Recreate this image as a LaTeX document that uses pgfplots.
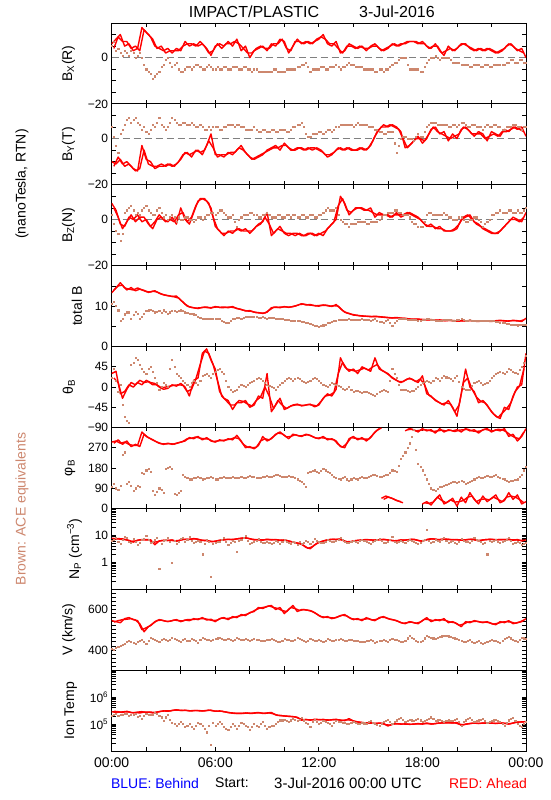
\documentclass[border=0pt]{standalone}
\usepackage{pgfplots}
\pgfplotsset{compat=1.18}
\usepackage{pgfplotstable}
\usepackage{fontspec}
\setmainfont{Liberation Sans}
\definecolor{brownc}{RGB}{205,135,110}
\pgfplotstableread{
t bxr bxb byr byb bzr bzb btr btb thr thb phr phl phb npr npb vr vb tr tb
0 6 5 -10 5 7 2 13.3 10.5 30 20 295 nan 95 7.8 6.5 545 405 2.9e5 2.0e5
0.25 8 3 -11 -3 4 -5 14.5 10 35 15 300 nan 90 7.5 8.5 540 410 2.7e5 2.4e5
0.5 10 2 -9 2 -2 -9 15.8 6.5 -15 5 290 nan 100 7.2 5.0 535 420 2.8e5 2.2e5
0.75 5 3 -12 6 -3 3 14.5 8 -10 -65 295 nan 250 7.0 9.0 555 430 2.9e5 2.5e5
1.0 6 1 -11 9 1 5 14.2 8.5 5 -80 285 nan 120 6.5 6.0 560 445 2.8e5 2.1e5
1.25 3 2 -13 8 0 4 14 7.8 0 55 280 nan 80 5.6 7.5 550 435 2.6e5 2.3e5
1.5 4 1 -14 7 2 3 14.5 8.2 10 60 280 nan 100 6.6 4.5 545 440 2.8e5 1.9e5
1.75 13 0 -3 4 -1 4 14 7.5 5 40 340 nan 160 7.0 6.8 500 450 2.9e5 1.6e5
2.0 11 -5 -9 3 0 6 13.6 8.8 15 30 320 nan 170 6.8 9.5 510 430 2.7e5 2.4e5
2.25 9 -7 -10 4 -3 3 13.5 9.2 10 45 310 nan 165 6.9 5.5 520 460 2.8e5 2.2e5
2.5 5 -8 -13 5 -1 2 13.8 8.5 8 20 300 nan 60 4.5 7.0 540 450 2.7e5 2.6e5
2.75 4 -6 -12 9 2 5 13.2 8.8 0 -5 290 nan 90 6.2 0.6 550 440 2.9e5 2.0e5
3.0 3 -3 -12 5 0 1 12.8 9.0 -5 10 285 nan 70 6.5 6.2 545 455 3.1e5 1.3e5
3.25 4 0 -11 5 -1 0 12.6 8.2 -3 0 290 nan 180 6.4 8.0 540 445 3.0e5 2.2e5
3.5 2 -4 -12 9 1 2 12.4 8.8 5 60 285 nan 175 6.8 1.0 545 460 3.2e5 1.1e5
3.75 4 -2 -11 7 -2 -1 12.5 8.6 2 30 290 nan 60 6.0 5.0 550 450 3.4e5 0.9e5
4.0 3 -6 -9 6 5 0 11.5 9.0 8 20 295 nan 80 6.8 7.5 540 440 3.2e5 1.2e5
4.25 7 -5 -6 7 0 1 10.5 8.5 0 10 300 nan 140 7.2 6.0 548 455 3.3e5 0.8e5
4.5 5 -4 -7 6 -2 0 9.8 8.2 -20 0 315 nan 130 7.0 9.0 545 445 3.1e5 1.0e5
4.75 6 -4 -6 6 3 -1 9.6 8.0 15 15 310 nan 135 7.6 5.5 555 450 3.2e5 0.7e5
5.0 5 -3 -5 5 8 1 9.4 7.5 20 5 320 nan 140 7.2 6.5 550 435 3.2e5 1.1e5
5.25 6 -5 -7 5 9 0 9.7 7.0 75 25 305 nan 130 6.5 2.0 560 460 3.1e5 0.9e5
5.5 4 -4 -3 4 8 2 9.8 6.8 85 30 315 nan 135 6.6 7.0 548 450 3.2e5 0.5e5
5.75 1 -4 2 4 5 3 9.5 6.9 60 20 300 nan 140 5.8 0.3 552 445 3.3e5 0.17e5
6.0 5 -5 -7 5 -3 2 9.9 7.0 40 35 295 nan 130 6.0 5.5 540 455 3.0e5 0.9e5
6.25 6 -5 -7 4 -5 4 9.7 6.8 -10 40 305 nan 135 6.6 6.0 555 460 3.1e5 1.2e5
6.5 5 -4 -8 5 -7 3 9.8 6.2 -25 30 300 nan 140 6.8 8.0 560 450 2.9e5 0.8e5
6.75 7 -5 -6 6 -5 1 9.6 5.8 -30 0 310 nan 135 7.2 4.5 550 455 2.7e5 0.6e5
7.0 5 -4 -7 6 -6 2 9.9 6.8 -50 -10 305 nan 140 6.9 6.5 565 445 2.6e5 1.0e5
7.25 8 -4 -5 6 -4 -3 9.4 7.2 -35 -5 325 nan 135 7.4 2.5 560 460 2.5e5 0.7e5
7.5 3 -5 -3 5 -5 1 9.2 7.0 -35 5 300 nan 140 7.8 7.0 575 450 2.5e5 1.1e5
7.75 5 -4 -6 4 -4 2 8.8 7.3 -30 0 270 nan 135 8.2 9.5 570 455 2.6e5 0.9e5
8.0 0 -5 -8 4 -6 3 8.9 7.5 -45 10 275 nan 145 7.5 5.0 585 445 2.5e5 0.6e5
8.25 3 -5 -9 5 -4 2 8.5 7.4 -40 15 265 nan 140 6.8 6.0 590 455 2.6e5 1.0e5
8.5 4 -6 -8 3 -2 1 8.4 7.2 -20 20 280 nan 135 7.0 7.5 610 450 2.7e5 0.8e5
8.75 5 -6 -7 4 -1 2 8.2 7.3 -25 15 320 nan 140 6.6 5.5 605 445 2.5e5 1.2e5
9.0 3 -6 -5 3 3 3 8.5 7.0 30 5 300 nan 145 7.2 6.0 615 450 2.6e5 0.7e5
9.25 6 -6 -4 4 -7 1 9.6 7.2 -55 0 310 nan 140 6.8 4.8 620 455 2.7e5 0.9e5
9.5 5 -5 -3 3 -5 1 9.8 7.0 -40 -5 330 nan 150 7.0 6.5 600 445 2.2e5 1.0e5
9.75 8 -6 -5 4 -3 2 9.6 6.8 -25 5 340 nan 145 6.5 5.0 610 440 2.1e5 1.4e5
10.0 7 -6 -2 4 -6 1 9.9 6.7 -50 15 325 nan 140 6.8 7.0 580 455 2.0e5 1.5e5
10.25 2 -5 -4 3 -7 2 9.7 6.6 -45 20 310 nan 145 6.2 5.5 600 450 1.95e5 1.2e5
10.5 5 -5 -5 5 -6 2 9.9 6.5 -40 15 330 nan 140 5.6 6.0 620 445 1.9e5 1.6e5
10.75 8 -4 -4 6 -6 1 10.2 6.4 -38 20 325 nan 130 5.2 4.5 590 460 1.8e5 1.3e5
11.0 6 -3 -4 7 -7 2 10.6 6.2 -42 15 320 nan 120 4.8 5.0 600 450 1.4e5 1.7e5
11.25 7 -2 -5 2 -7 1 10.3 6.0 -40 10 330 nan 95 3.6 6.5 598 440 1.5e5 1.1e5
11.5 6 -6 -4 1 -6 2 10.4 5.6 -38 15 325 nan 165 3.2 5.0 595 455 1.4e5 0.8e5
11.75 7 -5 -4 2 -7 1 10.1 5.2 -44 20 315 nan 170 4.4 7.5 585 445 1.5e5 1.5e5
12.0 8 -5 -5 3 -6 2 10.0 5.0 -40 15 310 nan 160 5.5 6.0 570 450 1.45e5 1.0e5
12.25 10 -4 -6 2 -7 3 10.3 5.3 -25 5 320 nan 175 6.2 5.2 560 440 1.5e5 1.3e5
12.5 6 -5 -8 4 -4 5 10.2 5.8 -15 0 305 nan 165 6.8 7.0 565 455 1.4e5 1.1e5
12.75 5 -4 -7 3 -2 4 9.9 6.2 -20 10 310 nan 150 7.2 5.8 555 445 1.45e5 0.9e5
13.0 7 -3 -5 5 0 5 10.4 6.5 -5 5 300 nan 135 7.0 6.5 560 450 1.5e5 1.3e5
13.25 2 -5 -4 6 10 0 9.4 6.7 65 0 275 nan 130 7.4 8.5 570 455 1.4e5 1.2e5
13.5 3 -4 -5 6 7 -2 8.5 6.6 45 -5 270 nan 140 6.0 6.0 575 445 1.35e5 1.1e5
13.75 6 -2 -4 6 2 -3 8.2 6.8 35 0 310 nan 125 5.6 5.2 560 450 1.6e5 1.0e5
14.0 5 -3 -5 5 4 -2 7.8 6.7 40 -10 320 nan 135 6.2 6.5 550 448 1.3e5 1.2e5
14.25 4 -4 -5 7 5 -1 7.7 6.6 30 -8 305 nan 130 6.5 5.5 555 445 1.2e5 1.0e5
14.5 5 -4 -4 6 5 -1 7.6 6.8 45 -12 315 nan 140 6.8 7.0 545 440 1.15e5 1.1e5
14.75 3 -5 -5 6 4 -2 7.5 6.7 40 -10 300 nan 135 7.0 6.0 560 445 1.1e5 1.05e5
15.0 5 -5 -3 5 5 -1 7.4 6.5 35 -15 315 nan 145 6.8 5.0 550 450 1.12e5 1.3e5
15.25 6 -6 1 4 1 -1 7.5 6.8 65 -20 340 nan 150 6.6 6.5 545 438 1.05e5 1.0e5
15.5 4 -5 4 3 3 0 7.4 6.2 40 -10 355 nan 140 6.9 7.5 560 445 1.1e5 0.9e5
15.75 3 -6 6 2 2 2 7.3 6.0 35 -5 nan 40 145 7.1 5.5 565 450 1.05e5 1.2e5
16.0 4 -5 5 3 2 3 7.2 6.6 30 -10 nan 50 150 6.8 6.0 555 442 0.85e5 1.5e5
16.25 6 -3 6 3 1 3 7.1 5.2 20 40 nan 45 170 6.4 9.0 550 455 1.0e5 1.0e5
16.5 5 -2 5 -6 3 4 7.2 6.5 15 20 nan 35 165 6.2 5.2 545 450 1.05e5 1.4e5
16.75 6 0 3 0 1 3 7.0 7.0 10 -5 nan 30 220 6.8 6.5 535 440 1.0e5 1.7e5
17.0 6 0 -4 1 2 2 7.0 6.8 15 -5 345 nan 250 6.6 5.5 530 445 1.02e5 1.2e5
17.25 7 -5 -3 0 3 1 6.8 6.6 20 -10 355 nan 290 7.0 7.0 540 470 0.98e5 1.5e5
17.5 7 -5 -1 -1 2 -2 6.7 6.7 15 -8 350 nan 350 7.2 6.0 535 455 1.0e5 1.3e5
17.75 6 -5 1 2 1 -3 6.8 6.5 10 0 340 nan 200 6.5 5.0 530 440 1.05e5 1.6e5
18.0 7 -6 -2 1 -1 -3 6.7 6.6 25 10 355 20 170 6.0 6.5 545 445 1.0e5 1.2e5
18.25 5 -2 0 5 -3 2 6.6 6.8 -15 15 345 30 130 7.0 16 560 470 1.1e5 1.5e5
18.5 4 0 4 7 -2 3 6.7 6.7 -20 10 350 15 90 7.5 5.5 540 460 1.0e5 1.8e5
18.75 6 1 5 7 -4 2 6.5 6.5 -30 20 335 40 80 7.2 7.0 550 455 1.05e5 1.3e5
19.0 3 -1 2 6 -3 2 6.6 6.4 -35 15 355 60 95 6.8 6.0 545 465 1.1e5 1.5e5
19.25 1 0 3 6 -5 3 6.4 6.6 -40 25 340 20 100 7.4 8.0 555 470 1.12e5 1.2e5
19.5 5 0 -1 5 -5 1 6.5 6.7 -30 20 350 30 110 7.1 5.5 535 468 1.15e5 1.4e5
19.75 3 -2 2 6 -5 0 6.4 6.5 -45 15 345 45 120 6.8 6.2 540 460 1.1e5 1.3e5
20.0 4 -2 0 5 -4 0 6.3 6.6 -65 25 350 10 115 7.0 5.0 530 455 1.15e5 1.6e5
20.25 6 -3 4 7 0 1 6.4 6.8 -15 0 340 50 125 6.6 7.5 515 445 0.9e5 0.9e5
20.5 6 -3 5 6 1 -1 6.3 6.5 40 -5 355 25 110 6.8 6.0 540 440 1.0e5 1.4e5
20.75 4 -4 3 5 2 0 6.5 6.6 0 -5 345 70 120 7.2 5.5 535 450 1.05e5 1.7e5
21.0 3 -3 1 6 -1 1 6.3 6.4 -10 10 350 40 130 7.0 8.0 545 435 1.1e5 1.2e5
21.25 4 -3 3 5 -2 0 6.2 6.5 -35 15 335 20 140 6.2 6.5 540 445 1.05e5 1.4e5
21.5 3 -4 2 4 -4 -3 6.4 6.3 -30 5 350 55 135 6.8 5.0 535 430 1.1e5 1.6e5
21.75 4 -3 -1 6 -5 -1 6.3 6.5 -40 10 355 30 145 7.0 2.0 540 440 1.08e5 1.1e5
22.0 3 -4 3 5 -6 2 6.2 6.4 -55 20 340 45 140 7.2 6.0 530 450 1.1e5 1.3e5
22.25 2 -3 2 6 -6 3 6.4 6.2 -65 30 350 60 150 6.8 7.0 525 445 1.05e5 1.5e5
22.5 3 -3 1 5 -5 4 6.5 6.0 -70 35 345 25 135 7.0 5.5 540 435 1.1e5 1.2e5
22.75 4 -3 4 4 -3 3 6.4 5.8 -45 30 355 35 130 6.9 6.5 535 455 1.08e5 0.9e5
23.0 6 -2 3 5 -1 4 6.3 5.6 -50 40 320 70 120 7.2 8.0 545 465 1.0e5 1.4e5
23.25 5 -1 5 6 1 3 6.5 5.4 -20 35 330 40 125 6.6 5.0 530 450 1.1e5 1.7e5
23.5 3 -2 4 5 0 4 6.4 5.3 0 30 300 60 130 7.0 6.0 535 440 1.2e5 1.0e5
23.75 4 -1 5 4 -1 3 6.2 5.5 5 45 320 20 150 6.2 4.5 540 460 1.2e5 0.8e5
24.0 0 -2 1 5 3 5 7.0 5.4 75 70 355 30 185 6.8 5.5 555 455 1.25e5 1.2e5
}\data
\pgfplotstableread{
t bxr bxb byr byb bzr bzb btr btb thr thb phr phl phb npr npb vr vb tr tb
0.125 4 7 -12 1 5 -2 14.0 11 20 40 290 nan 110 7.2 7.0 538 400 3.0e5 2.2e5
0.375 9 4 -8 -6 1 -6 15.0 9 10 -10 305 nan 85 7.6 6.0 545 415 2.9e5 2.0e5
0.625 7 1 -11 4 -4 -6 15.2 7 -25 -40 285 nan 240 7.4 7.0 550 425 2.7e5 2.3e5
0.875 7 2 -10 8 -1 4 14.0 8.5 -5 -75 300 nan 110 6.8 8.0 552 440 3.0e5 2.4e5
1.125 4 3 -12 7 2 6 14.6 7.0 10 50 275 nan 100 6.0 5.5 555 440 2.7e5 2.2e5
1.375 5 0 -14 9 -1 2 13.8 8.6 5 65 285 nan 90 6.2 6.0 548 430 2.7e5 2.4e5
1.625 3 2 -13 6 1 2 14.2 7.0 15 50 275 nan 95 6.8 5.5 530 445 2.6e5 2.0e5
1.875 12 -3 -5 5 1 5 13.9 8.2 10 35 330 nan 155 6.9 7.5 490 440 2.8e5 2.1e5
2.125 10 -6 -11 2 -2 4 13.4 9.0 12 40 315 nan 175 7.0 7.0 515 445 2.8e5 2.3e5
2.375 8 -9 -12 6 -4 2 13.7 8.8 5 35 305 nan 80 5.5 6.0 530 455 2.6e5 2.3e5
2.625 4 -7 -12 7 0 4 13.5 8.7 5 10 295 nan 75 5.8 8.0 545 445 2.8e5 2.4e5
2.875 5 -4 -11 6 1 3 13.0 8.4 -2 0 288 nan 85 6.4 5.0 548 450 3.0e5 1.8e5
3.125 2 -1 -12 4 -1 2 12.7 8.6 0 5 287 nan 175 6.6 7.0 542 450 3.1e5 1.8e5
3.375 3 -2 -11 7 0 1 12.5 8.5 2 40 288 nan 185 6.6 6.0 542 452 3.1e5 1.5e5
3.625 3 -3 -12 8 -1 1 12.3 8.9 4 45 286 nan 65 6.3 6.5 548 455 3.3e5 1.0e5
3.875 3 -5 -10 6 2 1 12.0 8.8 5 25 292 nan 70 6.4 6.0 545 445 3.3e5 1.0e5
4.125 5 -6 -7 7 3 0 11.0 8.8 4 15 298 nan 150 7.0 8.0 544 450 3.2e5 1.0e5
4.375 6 -4 -6 6 -1 1 10.0 8.4 -10 5 310 nan 135 7.1 7.0 550 448 3.2e5 0.9e5
4.625 6 -5 -8 7 1 0 9.7 8.1 -5 10 312 nan 130 7.3 6.5 550 455 3.1e5 0.8e5
4.875 5 -3 -5 5 6 0 9.5 7.8 18 10 318 nan 138 7.4 6.0 552 445 3.2e5 0.9e5
5.125 7 -4 -6 6 9 1 9.6 7.2 50 15 312 nan 135 6.8 6.0 555 450 3.1e5 1.0e5
5.375 5 -5 -5 4 9 1 9.7 6.9 80 28 310 nan 132 6.4 5.0 555 455 3.1e5 0.7e5
5.625 2 -3 -1 5 7 2 9.6 7.0 75 25 308 nan 138 6.2 6.0 550 450 3.3e5 0.9e5
5.875 3 -5 -4 5 1 3 9.7 6.8 50 30 298 nan 135 5.9 5.0 545 450 3.1e5 1.1e5
6.125 6 -4 -8 5 -4 3 9.8 6.9 15 38 300 nan 130 6.3 5.8 548 458 3.0e5 1.0e5
6.375 4 -5 -7 4 -6 4 9.6 6.5 -20 35 302 nan 138 6.7 7.0 558 455 3.0e5 1.0e5
6.625 6 -4 -7 5 -6 2 9.7 6.0 -30 15 305 nan 138 7.0 6.0 555 452 2.8e5 0.7e5
6.875 6 -5 -6 6 -5 1 9.8 6.3 -40 -5 308 nan 137 7.0 5.5 558 450 2.6e5 0.8e5
7.125 7 -4 -6 5 -5 -1 9.6 7.0 -40 -8 315 nan 138 7.2 6.0 562 452 2.5e5 0.9e5
7.375 6 -5 -4 6 -4 0 9.3 7.1 -30 0 310 nan 137 7.6 6.5 568 455 2.5e5 0.9e5
7.625 4 -4 -5 5 -5 2 9.0 7.2 -32 3 285 nan 138 8.0 8.0 572 450 2.5e5 1.0e5
7.875 2 -5 -7 4 -5 2 8.8 7.4 -38 5 272 nan 140 7.8 6.5 578 450 2.6e5 0.8e5
8.125 2 -6 -9 4 -5 3 8.7 7.5 -42 12 270 nan 142 7.2 5.5 588 450 2.5e5 0.8e5
8.375 4 -5 -8 4 -3 2 8.4 7.3 -30 18 272 nan 138 6.9 6.5 600 452 2.6e5 0.9e5
8.625 5 -6 -7 3 -2 1 8.3 7.2 -22 18 300 nan 138 6.8 6.0 608 448 2.6e5 1.0e5
8.875 4 -6 -6 4 1 2 8.3 7.2 0 10 310 nan 142 6.9 5.5 612 448 2.5e5 0.9e5
9.125 4 -6 -5 3 -2 2 9.0 7.1 -20 3 305 nan 142 7.0 5.5 618 452 2.6e5 0.8e5
9.375 6 -5 -4 4 -6 1 9.7 7.1 -48 -2 320 nan 145 6.9 5.5 610 450 2.4e5 0.9e5
9.625 6 -6 -4 3 -4 2 9.7 6.9 -30 0 335 nan 148 6.8 5.8 605 442 2.1e5 1.2e5
9.875 8 -6 -3 4 -5 1 9.8 6.8 -40 10 332 nan 142 6.6 6.0 595 448 2.05e5 1.4e5
10.125 4 -5 -3 3 -6 2 9.8 6.6 -48 18 318 nan 142 6.5 6.0 590 452 1.98e5 1.3e5
10.375 3 -5 -5 4 -6 1 9.8 6.5 -42 18 320 nan 143 5.9 5.0 610 448 1.92e5 1.4e5
10.625 7 -5 -5 5 -7 2 10.0 6.5 -40 18 328 nan 135 5.4 5.5 605 452 1.85e5 1.5e5
10.875 7 -4 -4 6 -6 1 10.4 6.3 -40 18 322 nan 125 5.0 6.0 595 455 1.6e5 1.5e5
11.125 6 -3 -5 5 -7 2 10.5 6.1 -41 12 325 nan 110 4.2 5.5 600 445 1.45e5 1.4e5
11.375 7 -4 -4 1 -6 1 10.3 5.8 -39 12 328 nan 160 3.3 6.0 596 448 1.45e5 1.0e5
11.625 6 -5 -5 2 -6 2 10.2 5.4 -40 18 320 nan 168 3.8 6.0 590 450 1.45e5 1.2e5
11.875 8 -5 -4 2 -7 1 10.1 5.1 -42 18 312 nan 165 5.0 6.5 578 447 1.5e5 1.2e5
12.125 9 -4 -5 3 -6 2 10.2 5.1 -32 10 315 nan 168 5.8 5.5 565 445 1.45e5 1.1e5
12.375 8 -5 -7 3 -5 4 10.2 5.5 -20 3 312 nan 170 6.5 6.0 562 448 1.45e5 1.2e5
12.625 6 -4 -7 4 -3 4 10.0 6.0 -18 5 308 nan 158 7.0 6.5 560 450 1.42e5 1.0e5
12.875 6 -4 -6 4 -1 4 10.1 6.3 -12 8 305 nan 140 7.1 6.0 558 448 1.48e5 1.1e5
13.125 4 -4 -4 5 6 2 10.0 6.6 30 3 285 nan 132 7.2 7.0 565 452 1.45e5 1.25e5
13.375 2 -4 -5 6 9 -1 8.9 6.6 55 -3 272 nan 135 6.6 7.0 572 450 1.38e5 1.15e5
13.625 5 -3 -4 6 4 -2 8.3 6.7 40 -3 290 nan 130 5.8 5.5 568 448 1.45e5 1.05e5
13.875 5 -3 -5 6 3 -2 8.0 6.7 38 -5 315 nan 130 5.9 6.0 555 450 1.4e5 1.1e5
14.125 4 -4 -5 6 5 -2 7.8 6.6 35 -9 312 nan 132 6.4 6.0 552 446 1.25e5 1.1e5
14.375 5 -4 -4 6 5 -1 7.6 6.7 38 -10 310 nan 135 6.6 6.5 550 442 1.18e5 1.05e5
14.625 4 -5 -5 6 4 -1 7.5 6.7 42 -11 308 nan 138 6.9 6.5 552 443 1.12e5 1.08e5
14.875 4 -5 -4 5 4 -2 7.5 6.6 38 -12 308 nan 140 6.9 5.5 555 448 1.1e5 1.2e5
15.125 5 -5 -1 5 3 -1 7.4 6.6 45 -18 328 nan 148 6.7 6.0 548 444 1.08e5 1.1e5
15.375 5 -6 3 4 2 -1 7.4 6.5 50 -15 348 nan 145 6.8 7.0 552 442 1.08e5 0.95e5
15.625 3 -5 5 3 2 1 7.3 6.1 38 -8 358 45 142 7.0 6.5 562 448 1.08e5 1.05e5
15.875 4 -5 5 2 2 2 7.2 6.3 32 -8 nan 55 148 6.9 5.5 560 446 0.95e5 1.35e5
16.125 5 -4 6 3 1 3 7.1 6.0 25 15 nan 48 160 6.6 7.0 552 450 0.92e5 1.2e5
16.375 6 -2 5 -2 2 4 7.1 5.8 18 30 nan 40 168 6.3 6.0 548 452 1.02e5 1.2e5
16.625 5 -1 4 -3 2 3 7.1 6.8 12 5 nan 32 190 6.5 6.0 540 445 1.02e5 1.55e5
16.875 6 0 0 1 2 2 7.0 6.9 12 -5 nan 25 235 6.7 6.0 532 442 1.01e5 1.45e5
17.125 7 -3 -4 0 3 2 6.9 6.7 18 -8 350 nan 270 6.8 6.2 535 458 1.0e5 1.35e5
17.375 7 -5 -2 0 2 -1 6.8 6.6 18 -9 352 nan 320 7.1 6.5 538 462 0.99e5 1.4e5
17.625 7 -5 0 1 1 -2 6.8 6.6 12 -4 345 nan 260 6.8 5.5 532 448 1.02e5 1.45e5
17.875 6 -6 0 1 0 -3 6.7 6.5 18 5 348 nan 185 6.2 5.5 538 442 1.02e5 1.4e5
18.125 6 -4 -1 3 -2 -1 6.7 6.7 5 12 350 25 150 6.5 7.0 552 458 1.05e5 1.35e5
18.375 4 -1 2 6 -3 3 6.6 6.8 -18 12 348 22 110 7.2 6.5 550 465 1.05e5 1.6e5
18.625 5 0 5 7 -3 2 6.6 6.6 -25 15 342 28 85 7.4 6.0 545 458 1.02e5 1.55e5
18.875 5 0 3 6 -4 2 6.5 6.5 -32 18 345 50 88 7.0 6.5 548 460 1.08e5 1.4e5
19.125 2 0 2 6 -4 2 6.5 6.5 -38 20 348 35 98 7.1 7.0 550 468 1.1e5 1.35e5
19.375 3 0 1 6 -5 2 6.4 6.6 -35 22 345 25 105 7.2 6.5 545 470 1.12e5 1.3e5
19.625 4 -1 0 5 -5 1 6.5 6.6 -38 18 348 38 115 7.0 6.0 538 464 1.12e5 1.35e5
19.875 3 -2 1 6 -4 0 6.4 6.5 -55 20 342 28 118 6.9 5.5 535 458 1.12e5 1.45e5
20.125 5 -2 2 6 -2 1 6.3 6.7 -40 12 348 30 120 6.8 6.0 522 450 1.0e5 1.2e5
20.375 6 -3 5 7 1 0 6.4 6.6 10 -3 350 35 118 6.7 6.5 528 442 0.95e5 1.2e5
20.625 5 -3 4 5 2 -1 6.4 6.5 20 -5 352 50 115 7.0 6.0 538 445 1.02e5 1.55e5
20.875 4 -4 2 6 0 0 6.4 6.5 -5 3 345 55 125 7.1 6.5 540 442 1.08e5 1.45e5
21.125 3 -3 2 5 -2 1 6.3 6.4 -22 12 342 30 135 6.6 7.0 542 440 1.08e5 1.3e5
21.375 4 -4 2 5 -3 -1 6.3 6.4 -32 10 345 40 138 6.5 6.0 538 438 1.08e5 1.5e5
21.625 3 -3 0 5 -4 -2 6.3 6.4 -35 8 352 42 140 6.9 5.5 538 435 1.09e5 1.35e5
21.875 4 -4 1 5 -5 0 6.3 6.4 -48 15 348 38 142 7.1 6.5 535 445 1.09e5 1.2e5
22.125 3 -3 2 6 -6 2 6.3 6.3 -60 25 345 50 145 7.0 6.5 528 448 1.08e5 1.4e5
22.375 2 -3 1 5 -6 3 6.4 6.1 -68 32 352 40 142 6.9 6.0 532 440 1.08e5 1.35e5
22.625 3 -3 3 4 -4 3 6.4 5.9 -58 32 350 30 132 7.0 6.0 538 445 1.09e5 1.05e5
22.875 5 -2 3 5 -2 3 6.3 5.7 -48 35 340 50 125 7.0 7.0 540 460 1.05e5 1.15e5
23.125 6 -1 4 5 0 4 6.4 5.5 -35 38 325 55 122 6.9 6.5 538 458 1.05e5 1.55e5
23.375 4 -2 5 6 0 3 6.4 5.4 -10 32 315 50 128 6.8 5.5 532 445 1.15e5 1.3e5
23.625 3 -1 4 5 -1 3 6.3 5.4 2 38 310 40 140 6.6 5.5 538 452 1.2e5 0.9e5
23.875 2 -2 3 5 1 4 6.6 5.5 40 55 340 25 170 6.5 5.0 548 458 1.22e5 1.0e5
}\datb
\pgfplotsset{
  panel/.style={
    width=414.3pt, height=80.9pt, scale only axis,
    xmin=0, xmax=24,
    xtick={0,6,12,18,24}, minor xtick={2,4,8,10,14,16,20,22},
    xticklabels={},
    tick align=inside, major tick length=4pt, minor tick length=4pt,
    axis line style={line width=0.9pt},
    every tick/.style={line width=0.8pt, black},
    tick label style={font=\fontsize{12}{12}\selectfont},
    ylabel style={font=\fontsize{14}{14}\selectfont},
    ylabel shift=6pt,
    unbounded coords=jump,
  },
  redl/.style={red, line width=1.4pt, line join=round},
  brownm/.style={only marks, mark=square*, mark size=0.55pt, brownc},
  zerol/.style={gray, line width=0.8pt, dash pattern=on 7pt off 4pt},
}
\begin{document}
\begin{tikzpicture}[x=1pt,y=1pt]
\path[use as bounding box] (0,0) rectangle (550,800);
% 1 Bx
\begin{axis}[panel, at={(111.7pt,777pt)}, anchor=north west,
  ymin=-20, ymax=15, ytick={-20,0}, yticklabels={−20,0}, minor ytick={-15,-10,-5,5,10},
  ylabel={B\textsubscript{X}(R)}]
\addplot[zerol] coordinates {(0,0) (24,0)};
\addplot[brownm] table[x=t,y=bxb]{\data};
\addplot[brownm] table[x=t,y=bxb]{\datb};
\addplot[redl] table[x=t,y=bxr]{\data};
\addplot[redl] table[x=t,y=bxr]{\datb};
\end{axis}
% 2 By
\begin{axis}[panel, at={(111.7pt,696.1pt)}, anchor=north west,
  ymin=-20, ymax=15, ytick={-20,0}, yticklabels={−20,0}, minor ytick={-15,-10,-5,5,10},
  ylabel={B\textsubscript{Y}(T)}]
\addplot[zerol] coordinates {(0,0) (24,0)};
\addplot[brownm] table[x=t,y=byb]{\data};
\addplot[brownm] table[x=t,y=byb]{\datb};
\addplot[redl] table[x=t,y=byr]{\data};
\addplot[redl] table[x=t,y=byr]{\datb};
\end{axis}
% 3 Bz
\begin{axis}[panel, at={(111.7pt,615.2pt)}, anchor=north west,
  ymin=-20, ymax=15, ytick={-20,0}, yticklabels={−20,0}, minor ytick={-15,-10,-5,5,10},
  ylabel={B\textsubscript{Z}(N)}]
\addplot[zerol] coordinates {(0,0) (24,0)};
\addplot[brownm] table[x=t,y=bzb]{\data};
\addplot[brownm] table[x=t,y=bzb]{\datb};
\addplot[redl] table[x=t,y=bzr]{\data};
\addplot[redl] table[x=t,y=bzr]{\datb};
\end{axis}
% 4 total B
\begin{axis}[panel, at={(111.7pt,534.3pt)}, anchor=north west,
  ymin=0, ymax=20, ytick={0,10}, yticklabels={0,10}, minor ytick={5,15},
  ylabel={total B}]
\addplot[brownm] table[x=t,y=btb]{\data};
\addplot[brownm] table[x=t,y=btb]{\datb};
\addplot[redl] table[x=t,y=btr]{\data};
\addplot[redl] table[x=t,y=btr]{\datb};
\end{axis}
% 5 theta
\begin{axis}[panel, at={(111.7pt,453.4pt)}, anchor=north west,
  ymin=-90, ymax=90, ytick={-90,-45,0,45}, yticklabels={−90,−45,0,45},
  ylabel={θ\textsubscript{B}}]
\addplot[brownm] table[x=t,y=thb]{\data};
\addplot[brownm] table[x=t,y=thb]{\datb};
\addplot[redl] table[x=t,y=thr]{\data};
\addplot[redl] table[x=t,y=thr]{\datb};
\end{axis}
% 6 phi
\begin{axis}[panel, at={(111.7pt,372.5pt)}, anchor=north west,
  ymin=0, ymax=360, ytick={0,90,180,270}, yticklabels={0,90,180,270},
  ylabel={φ\textsubscript{B}}]
\addplot[brownm] table[x=t,y=phb]{\data};
\addplot[brownm] table[x=t,y=phb]{\datb};
\addplot[redl] table[x=t,y=phr]{\data};
\addplot[redl] table[x=t,y=phr]{\datb};
\addplot[redl] table[x=t,y=phl]{\data};
\addplot[redl] table[x=t,y=phl]{\datb};
\end{axis}
% 7 Np
\begin{axis}[panel, at={(111.7pt,291.6pt)}, anchor=north west,
  ymode=log, ymin=0.1, ymax=100, ytick={0.1,1,10,100}, yticklabels={,1,10,},
  minor ytick={0.2,0.3,0.4,0.5,0.6,0.7,0.8,0.9,2,3,4,5,6,7,8,9,20,30,40,50,60,70,80,90},
  ylabel={N\textsubscript{P} (cm\textsuperscript{−3})}]
\addplot[brownm] table[x=t,y=npb]{\data};
\addplot[brownm] table[x=t,y=npb]{\datb};
\addplot[redl] table[x=t,y=npr]{\data};
\addplot[redl] table[x=t,y=npr]{\datb};
\end{axis}
% 8 V
\begin{axis}[panel, at={(111.7pt,210.7pt)}, anchor=north west,
  ymin=300, ymax=700, ytick={400,600}, yticklabels={400,600},
  minor ytick={320,340,360,380,420,440,460,480,500,520,540,560,580,620,640,660,680},
  ylabel={V (km/s)}]
\addplot[brownm] table[x=t,y=vb]{\data};
\addplot[brownm] table[x=t,y=vb]{\datb};
\addplot[redl] table[x=t,y=vr]{\data};
\addplot[redl] table[x=t,y=vr]{\datb};
\end{axis}
% 9 T
\begin{axis}[panel, at={(111.7pt,129.8pt)}, anchor=north west,
  ymode=log, ymin=1e4, ymax=1e7, ytick={1e4,1e5,1e6,1e7},
  yticklabels={,10\textsuperscript{5},10\textsuperscript{6},},
  minor ytick={2e4,3e4,4e4,5e4,6e4,7e4,8e4,9e4,2e5,3e5,4e5,5e5,6e5,7e5,8e5,9e5,2e6,3e6,4e6,5e6,6e6,7e6,8e6,9e6},
  xticklabels={00:00,06:00,12:00,18:00,00:00},
  xticklabel style={font=\fontsize{14}{14}\selectfont, yshift=-3pt},
  ylabel={Ion Temp}]
\addplot[brownm] table[x=t,y=tb]{\data};
\addplot[brownm] table[x=t,y=tb]{\datb};
\addplot[redl] table[x=t,y=tr]{\data};
\addplot[redl] table[x=t,y=tr]{\datb};
\end{axis}
% texts
\node[font=\fontsize{16}{16}\selectfont] at (254,788) {IMPACT/PLASTIC};
\node[font=\fontsize{16}{16}\selectfont] at (397,788) {3-Jul-2016};
\node[rotate=90, font=\fontsize{14}{14}\selectfont] at (22,616) {(nanoTesla, RTN)};
\node[rotate=90, font=\fontsize{14}{14}\selectfont, text=brownc] at (22,291) {Brown: ACE equivalents};
\node[font=\fontsize{14}{14}\selectfont, text=blue] at (155,17) {BLUE: Behind};
\node[font=\fontsize{14}{14}\selectfont, anchor=west, inner sep=0pt] at (215,17) {Start:};
\node[font=\fontsize{15}{15}\selectfont, anchor=east, inner sep=0pt] at (422,17) {3-Jul-2016 00:00 UTC};
\node[font=\fontsize{14}{14}\selectfont, text=red] at (488,17) {RED: Ahead};
\end{tikzpicture}
\end{document}
